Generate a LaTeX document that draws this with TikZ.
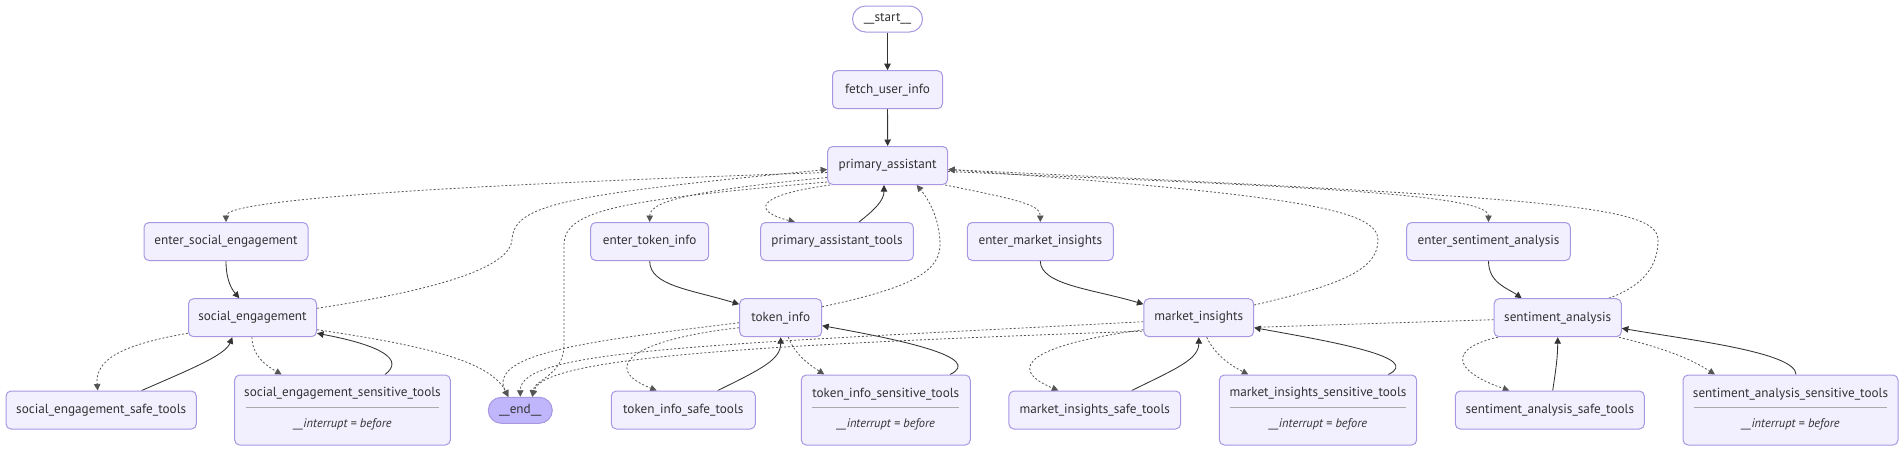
\documentclass[tikz,border=0pt]{standalone}
\usepackage{fontspec}
\setmainfont{PT Sans}
\usetikzlibrary{arrows.meta,calc}
\definecolor{nfill}{HTML}{F2F0FF}
\definecolor{nborder}{HTML}{A997E2}
\definecolor{endfill}{HTML}{BFB6FC}
\definecolor{edgecol}{HTML}{333333}
\definecolor{dotcol}{HTML}{555555}
\definecolor{txtcol}{HTML}{333333}
\definecolor{sepcol}{HTML}{AAAAAA}
\pgfdeclarelayer{bg}
\pgfsetlayers{bg,main}
\begin{document}
\begin{tikzpicture}[x=1pt,y=-1pt,
  font=\fontsize{13.2}{15}\selectfont,
  box/.style={draw=nborder, fill=nfill, line width=1pt, rounded corners=5pt, inner sep=0pt, text=txtcol, minimum height=38pt},
  stad/.style={draw=nborder, line width=1pt, rounded corners=13pt, inner sep=0pt, text=txtcol, minimum height=26pt, minimum width=70pt},
  lbl/.style={inner sep=0pt, text=txtcol},
  sepline/.style={draw=sepcol, line width=0.8pt},
  solidedge/.style={draw=edgecol, line width=0.85pt, -{Triangle[length=6.5pt,width=6.5pt]}},
  dotedge/.style={draw=dotcol, line width=0.8pt, dash pattern=on 2pt off 2pt, -{Triangle[length=6.5pt,width=6.5pt]}}]
\useasboundingbox (0,0) rectangle (1904,451);

% nodes
\node[stad, fill=white] (st) at (887.5,19) {\_\_start\_\_};
\node[box, minimum width=110pt] (fui) at (887.5,89.7) {fetch\_user\_info};
\node[box, minimum width=120pt] (pa) at (887.7,165.5) {primary\_assistant};

\node[box, minimum width=164pt] (ese) at (226,241.5) {enter\_social\_engagement};
\node[box, minimum width=118pt] (eti) at (649.7,241.5) {enter\_token\_info};
\node[box, minimum width=152.7pt] (pat) at (837,241.5) {primary\_assistant\_tools};
\node[box, minimum width=146pt] (emi) at (1040.3,241.5) {enter\_market\_insights};
\node[box, minimum width=163.7pt] (esa) at (1488.5,241.5) {enter\_sentiment\_analysis};

\node[box, minimum width=128pt] (se) at (252.5,317.7) {social\_engagement};
\node[box, minimum width=82pt] (ti) at (780.7,317.7) {token\_info};
\node[box, minimum width=109.7pt] (mi) at (1198.8,317.7) {market\_insights};
\node[box, minimum width=127.3pt] (sa) at (1557.7,317.7) {sentiment\_analysis};

\node[stad, fill=endfill, minimum width=64pt] (endn) at (520.3,410.3) {\_\_end\_\_};

\node[box, minimum width=190.3pt] (ses) at (101.2,410) {social\_engagement\_safe\_tools};
\node[box, minimum width=144pt] (tis) at (683.3,410) {token\_info\_safe\_tools};
\node[box, minimum width=171.7pt] (mis) at (1094.8,410) {market\_insights\_safe\_tools};
\node[box, minimum width=189pt] (sas) at (1549.8,410) {sentiment\_analysis\_safe\_tools};

\node[box, minimum width=215.7pt, minimum height=70pt] (sess) at (342.5,410) {};
\node[lbl] (sesst) at ($(sess.center)+(0,-16.3)$) {social\_engagement\_sensitive\_tools};
\draw[sepline] ($(sess.west)+(11.5,-2.7)$) -- ($(sess.east)+(-11.5,-2.7)$);
\node[lbl, font=\fontsize{12.4}{14}\selectfont\itshape] (sessi) at ($(sess.center)+(0,14)$) {\_\_interrupt = before};

\node[box, minimum width=169pt, minimum height=70pt] (tiss) at (885.8,410) {};
\node[lbl] (tisst) at ($(tiss.center)+(0,-16.3)$) {token\_info\_sensitive\_tools};
\draw[sepline] ($(tiss.west)+(11.5,-2.7)$) -- ($(tiss.east)+(-11.5,-2.7)$);
\node[lbl, font=\fontsize{12.4}{14}\selectfont\itshape] (tissi) at ($(tiss.center)+(0,14)$) {\_\_interrupt = before};

\node[box, minimum width=197.3pt, minimum height=70pt] (miss) at (1318,410) {};
\node[lbl] (misst) at ($(miss.center)+(0,-16.3)$) {market\_insights\_sensitive\_tools};
\draw[sepline] ($(miss.west)+(11.5,-2.7)$) -- ($(miss.east)+(-11.5,-2.7)$);
\node[lbl, font=\fontsize{12.4}{14}\selectfont\itshape] (missi) at ($(miss.center)+(0,14)$) {\_\_interrupt = before};

\node[box, minimum width=215pt, minimum height=70pt] (sass) at (1790.5,410) {};
\node[lbl] (sasst) at ($(sass.center)+(0,-16.3)$) {sentiment\_analysis\_sensitive\_tools};
\draw[sepline] ($(sass.west)+(11.5,-2.7)$) -- ($(sass.east)+(-11.5,-2.7)$);
\node[lbl, font=\fontsize{12.4}{14}\selectfont\itshape] (sassi) at ($(sass.center)+(0,14)$) {\_\_interrupt = before};

\begin{pgfonlayer}{bg}
\fill[white] (0,0) rectangle (1904,451);
% solid edges
\draw[solidedge] (st) -- (fui);
\draw[solidedge] (fui) -- (pa);
\draw[solidedge] (ese.south) .. controls +(0,19.5) and +(-7.3,-8.7) .. ($(se.north)+(-13.2,0)$);
\draw[solidedge] (eti.south) .. controls +(0,24.5) and +(-50,-15) .. ($(ti.north west)+(0,6)$);
\draw[solidedge] (emi.south) .. controls +(0,24) and +(-50,-15) .. ($(mi.north west)+(0,6)$);
\draw[solidedge] (esa.south) .. controls +(0,22) and +(-14,-10) .. ($(sa.north)+(-36,0)$);
\draw[solidedge] ($(pat.north)+(22,0)$) .. controls +(16,-12.7) and +(0,15.5) .. ($(pa.south)+(-3.7,0)$);
\draw[solidedge] ($(ses.north)+(40.5,0)$) .. controls +(48,-21) and +(-7,18) .. ($(se.south)+(-20.2,0)$);
\draw[solidedge] ($(sess.north)+(42.5,0)$) .. controls +(20,-15) and +(64,12) .. ($(se.east)+(0,15.6)$);
\draw[solidedge] ($(tis.north)+(34.4,0)$) .. controls +(45,-22) and +(0,22) .. (ti.south);
\draw[solidedge] ($(tiss.north)+(64.2,0)$) .. controls +(35,-17) and +(78,14) .. ($(ti.east)+(0,8)$);
\draw[solidedge] ($(mis.north)+(36.9,0)$) .. controls +(45,-22) and +(0,22) .. (mi.south);
\draw[solidedge] ($(miss.north)+(70.3,0)$) .. controls +(35,-17) and +(78,14) .. ($(mi.east)+(0,10)$);
\draw[solidedge] ($(sas.north)+(2.9,0)$) .. controls +(3,-20) and +(0,20) .. (sa.south);
\draw[solidedge] ($(sass.north)+(5.5,0)$) .. controls +(0,-22) and +(70,12) .. ($(sa.east)+(0,10.6)$);

% dotted edges from primary_assistant
\draw[dotedge] ($(pa.west)+(0,7)$) .. controls (600,180) and (226,195) .. (ese.north);
\draw[dotedge] ($(pa.west)+(0,12)$) .. controls (700,190) and (649.7,200) .. (eti.north);
\draw[dotedge] ($(pa.south west)+(3,0)$) .. controls (750,196) and (755,212) .. ($(pat.north)+(-42,0)$);
\draw[dotedge] ($(pa.south east)+(-3,0)$) .. controls (1020,200) and (1040.3,205) .. (emi.north);
\draw[dotedge] ($(pa.east)+(0,6)$) .. controls (1250,185) and (1488.5,192) .. (esa.north);
\draw[dotedge] ($(pa.south west)+(0,-3)$) .. controls (620,200) and (564,210) .. (564,245) -- (564,345) .. controls (564,375) and (534,380) .. ($(endn.north)+(12,0)$);

% dotted edges back to primary_assistant
\draw[dotedge] ($(se.east)+(0,-9.4)$) .. controls (450,288) and (510,265) .. (512,240) .. controls (514,205) and (560,195) .. ($(pa.west)+(0,4)$);
\draw[dotedge] ($(ti.east)+(0,-11)$) .. controls (900,290) and (940,275) .. (940,245) .. controls (940,215) and (925,195) .. ($(pa.south)+(29,0)$);
\draw[dotedge] ($(mi.east)+(0,-12.7)$) .. controls (1340,285) and (1378,270) .. (1378,240) .. controls (1378,210) and (1300,195) .. ($(pa.east)+(0,4)$);
\draw[dotedge] ($(sa.north east)+(-13,0)$) .. controls (1645,285) and (1658,265) .. (1658,240) .. controls (1658,205) and (1550,198) .. ($(pa.east)+(0,4)$);

% dotted edges to __end__
\draw[dotedge] ($(se.east)+(0,12)$) .. controls (420,345) and (490,360) .. ($(endn.north)+(-12,0)$);
\draw[dotedge] ($(ti.west)+(0,5)$) .. controls (600,340) and (485,352) .. ($(endn.north)+(-12,0)$);
\draw[dotedge] ($(mi.west)+(0,4)$) .. controls (700,345) and (520,350) .. (endn.north);
\draw[dotedge] ($(sa.west)+(0,2)$) .. controls (850,340) and (545,350) .. ($(endn.north)+(12,0)$);

% dotted edges to tools
\draw[dotedge] ($(se.south west)+(0,-4)$) .. controls (120,345) and (95,360) .. ($(ses.north)+(-3.5,0)$);
\draw[dotedge] ($(se.south)+(-0.5,0)$) .. controls (252,355) and (265,365) .. ($(sess.north)+(-60.8,0)$);
\draw[dotedge] ($(ti.west)+(0,10)$) .. controls (630,340) and (600,368) .. ($(tis.north)+(-26.6,0)$);
\draw[dotedge] ($(ti.south)+(7.6,0)$) .. controls (795,355) and (810,365) .. ($(tiss.north)+(-61.5,0)$);
\draw[dotedge] ($(mi.west)+(0,12)$) .. controls (1030,345) and (1005,368) .. ($(mis.north)+(-36.5,0)$);
\draw[dotedge] ($(mi.south)+(7.9,0)$) .. controls (1215,355) and (1230,365) .. ($(miss.north)+(-69.7,0)$);
\draw[dotedge] ($(sa.south west)+(4.3,0)$) .. controls (1450,348) and (1450,370) .. ($(sas.north)+(-40.5,0)$);
\draw[dotedge] ($(sa.south east)+(-3,0)$) .. controls (1680,352) and (1700,365) .. ($(sass.north)+(-75.5,0)$);
\end{pgfonlayer}
\end{tikzpicture}
\end{document}
